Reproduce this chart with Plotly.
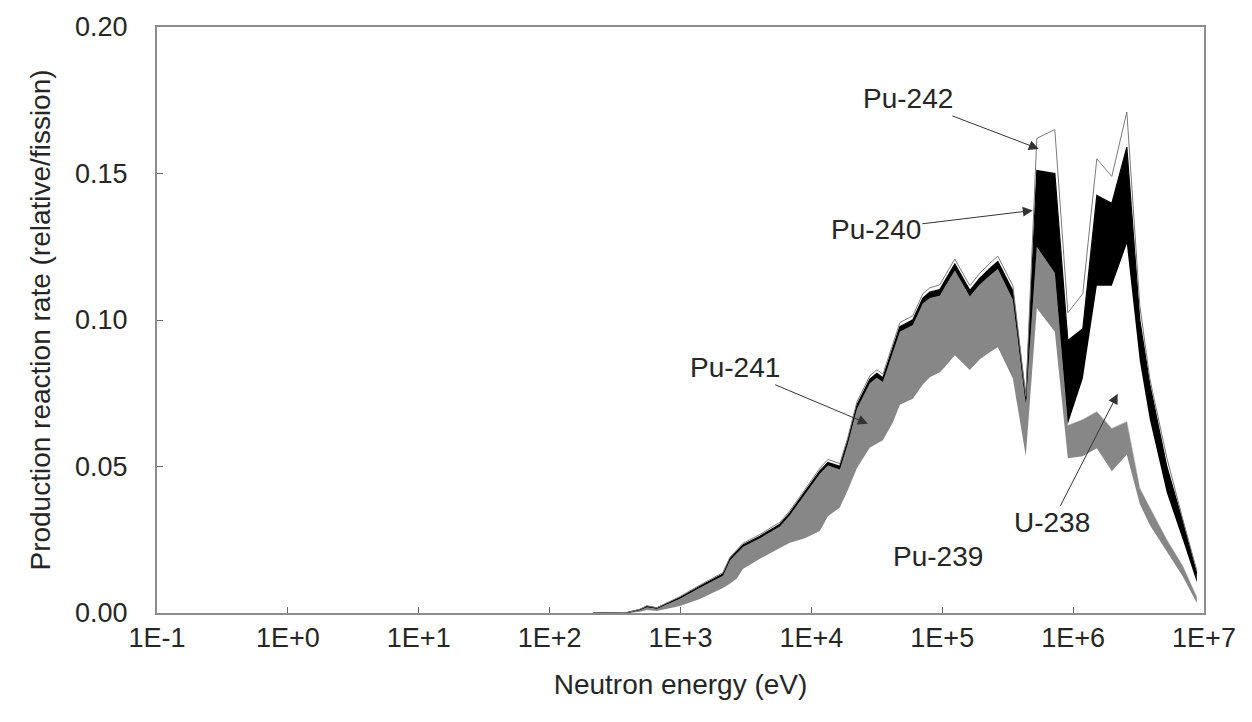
import numpy as np
import plotly.graph_objects as go

# Neutron energy grid (eV)
energy = [214, 396, 490, 554, 660, 801, 990, 1406, 2108, 2384, 2696, 2997, 4043, 5746,
          6850, 8920, 11610, 13370, 16510, 19000, 22260, 27990, 31650, 35170, 41940,
          47450, 59630, 71090, 80430, 95870, 104700, 124800, 162500, 193800, 231000,
          265900, 346300, 435100, 528000, 724900, 911100, 1186000, 1517000, 1975000,
          2572000, 3232000, 3854000, 5197000, 6887000, 8810000]

# Production reaction rate contributions (relative/fission), stacked bottom -> top
pu239 = [0, 0, 0.0004, 0.0010, 0.0007, 0.0014, 0.0024, 0.0048, 0.0085, 0.0100, 0.0118,
         0.0150, 0.0185, 0.0222, 0.0240, 0.0255, 0.0280, 0.0330, 0.0360, 0.0420, 0.0494,
         0.0565, 0.0580, 0.0590, 0.0650, 0.0711, 0.0731, 0.0780, 0.0805, 0.0822, 0.0840,
         0.0880, 0.0829, 0.0866, 0.0890, 0.0907, 0.0800, 0.0535, 0.1040, 0.0960, 0.0528,
         0.0535, 0.0562, 0.0484, 0.0540, 0.0372, 0.0300, 0.0210, 0.0125, 0.0034]
pu241 = [0, 0.0001, 0.0006, 0.0010, 0.0008, 0.0017, 0.0025, 0.0038, 0.0042, 0.0079, 0.0084,
         0.0075, 0.0070, 0.0073, 0.0094, 0.0148, 0.0195, 0.0173, 0.0130, 0.0158, 0.0202,
         0.0219, 0.0223, 0.0198, 0.0241, 0.0249, 0.0252, 0.0276, 0.0270, 0.0261, 0.0273,
         0.0289, 0.0251, 0.0255, 0.0262, 0.0267, 0.0269, 0.0180, 0.0210, 0.0200, 0.0112,
         0.0125, 0.0125, 0.0146, 0.0113, 0.0054, 0.0060, 0.0040, 0.0035, 0.0020]
u238 = [0] * 39 + [0, 0.0005, 0.0140, 0.0430, 0.0487, 0.0607, 0.0434, 0.0300, 0.0160,
                   0.0090, 0.0051]
pu240 = [0, 0.0001, 0.0002, 0.0003, 0.0002, 0.0003, 0.0004, 0.0005, 0.0006, 0.0006, 0.0007,
         0.0007, 0.0007, 0.0008, 0.0008, 0.0009, 0.0010, 0.0011, 0.0011, 0.0012, 0.0013,
         0.0014, 0.0015, 0.0015, 0.0016, 0.0017, 0.0018, 0.0019, 0.0020, 0.0021, 0.0021,
         0.0022, 0.0021, 0.0022, 0.0024, 0.0026, 0.0030, 0.0015, 0.0260, 0.0340, 0.0285,
         0.0170, 0.0308, 0.0281, 0.0330, 0.0140, 0.0120, 0.0090, 0.0060, 0.0030]
pu242 = [0, 0, 0.0001, 0.0002, 0.0001, 0.0002, 0.0003, 0.0004, 0.0005, 0.0005, 0.0006,
         0.0006, 0.0006, 0.0007, 0.0007, 0.0008, 0.0009, 0.0010, 0.0009, 0.0010, 0.0011,
         0.0012, 0.0012, 0.0012, 0.0013, 0.0014, 0.0014, 0.0015, 0.0015, 0.0016, 0.0016,
         0.0017, 0.0016, 0.0017, 0.0018, 0.0018, 0.0018, 0.0010, 0.0110, 0.0150, 0.0095,
         0.0120, 0.0125, 0.0092, 0.0120, 0.0050, 0.0020, 0.0030, 0.0010, 0.0010]

tick_vals = [1e-1, 1e0, 1e1, 1e2, 1e3, 1e4, 1e5, 1e6, 1e7]
tick_text = ["1E-1", "1E+0", "1E+1", "1E+2", "1E+3", "1E+4", "1E+5", "1E+6", "1E+7"]
y_ticks = [0.00, 0.05, 0.10, 0.15, 0.20]

FONT = "Liberation Sans, Arial, sans-serif"
GRAY = "#878787"
TXT = "#262626"

fig = go.Figure()
layers = [
    ("Pu-239", pu239, "white", "rgba(0,0,0,0)", 0),
    ("Pu-241", pu241, GRAY, GRAY, 0.5),
    ("U-238", u238, "white", "rgba(0,0,0,0)", 0),
    ("Pu-240", pu240, "black", "black", 1.2),
    ("Pu-242", pu242, "white", "#7a7a7a", 1),
]
for name, vals, fc, lc, lw in layers:
    fig.add_trace(go.Scatter(
        x=energy, y=vals, name=name, mode="lines", stackgroup="one",
        fillcolor=fc, line=dict(color=lc, width=lw), hoverinfo="x+y+name",
    ))

# annotations: (text, tip energy, tip value, ax, ay)
notes = [
    ("Pu-242", 5.47e5, 0.1584, -131, -50),
    ("Pu-240", 4.92e5, 0.1374, -157, 19),
    ("Pu-241", 2.70e4, 0.0646, -133, -56),
    ("U-238", 2.19e6, 0.0748, -66, 129),
]
for txt, ex, yv, ax, ay in notes:
    fig.add_annotation(x=np.log10(ex), y=yv, xref="x", yref="y", text=txt,
                       showarrow=True, ax=ax, ay=ay, arrowhead=2, arrowsize=2,
                       arrowwidth=1, arrowcolor="#333333",
                       font=dict(family=FONT, size=28, color=TXT))
fig.add_annotation(x=np.log10(9.25e4), y=0.0193, xref="x", yref="y", text="Pu-239",
                   showarrow=False, font=dict(family=FONT, size=28, color=TXT))

fig.update_layout(
    width=1252, height=722,
    margin=dict(l=157, r=48, t=22, b=109),
    paper_bgcolor="white", plot_bgcolor="white",
    showlegend=False,
    font=dict(family=FONT, size=27, color=TXT),
)
fig.update_xaxes(
    type="log", range=[-1, 7], tickvals=tick_vals, ticktext=tick_text,
    showgrid=False, zeroline=False, showline=True, linecolor="#8c8c8c", linewidth=2,
    mirror=True, ticks="inside", ticklen=6, tickcolor="#666666",
    tickfont=dict(family=FONT, size=27, color=TXT),
    title=dict(text="Neutron energy (eV)", font=dict(family=FONT, size=28, color=TXT),
               standoff=22),
)
fig.update_yaxes(
    range=[0, 0.2], tickvals=y_ticks, tickformat=".2f",
    showgrid=False, zeroline=False, showline=True, linecolor="#8c8c8c", linewidth=2,
    mirror=True, ticks="inside", ticklen=6, tickcolor="#666666",
    tickfont=dict(family=FONT, size=27, color=TXT), ticklabelstandoff=22,
    title=dict(text="Production reaction rate (relative/fission)",
               font=dict(family=FONT, size=28, color=TXT), standoff=16),
)

fig.write_html("out.html")
